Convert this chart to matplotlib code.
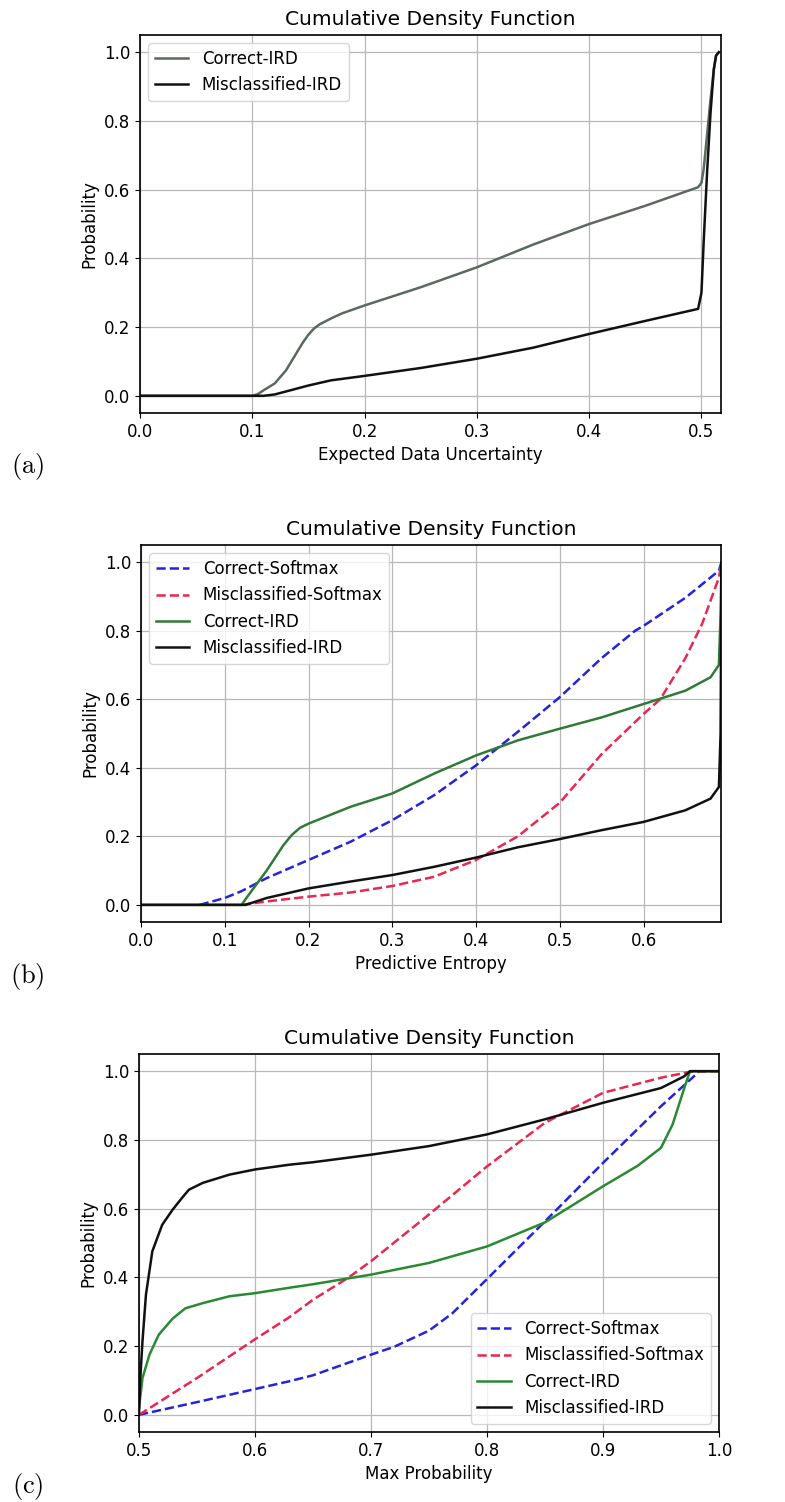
import numpy as np
import matplotlib
matplotlib.use("Agg")
import matplotlib.pyplot as plt

plt.rcParams['font.family'] = ['DejaVu Sans']
plt.rcParams['font.size'] = 12
plt.rcParams['mathtext.fontset'] = 'cm'

TITLE = "Cumulative Density Function"
YLABEL = "Probability"

# ---------------- Panel (a): Expected Data Uncertainty ----------------
a_xlabel = "Expected Data Uncertainty"
a_correct_ird_x = [0.0, 0.10, 0.105, 0.11, 0.12, 0.13, 0.14, 0.145, 0.15, 0.155, 0.16, 0.17, 0.18, 0.20, 0.25, 0.30,
                   0.35, 0.40, 0.45, 0.497, 0.50, 0.502, 0.505, 0.508, 0.511, 0.513, 0.5155]
a_correct_ird_y = [0.0, 0.0, 0.005, 0.016, 0.036, 0.074, 0.128, 0.155, 0.178, 0.196, 0.208, 0.225, 0.24, 0.263, 0.316, 0.374,
                   0.44, 0.50, 0.553, 0.607, 0.62, 0.66, 0.76, 0.86, 0.95, 0.99, 1.0]
a_mis_ird_x = [0.0, 0.11, 0.12, 0.15, 0.17, 0.20, 0.25, 0.30, 0.35, 0.40, 0.45, 0.497, 0.50,
               0.502, 0.505, 0.508, 0.511, 0.513, 0.5155]
a_mis_ird_y = [0.0, 0.0, 0.004, 0.03, 0.045, 0.058, 0.081, 0.108, 0.140, 0.18, 0.218, 0.253, 0.30,
               0.45, 0.65, 0.82, 0.95, 0.99, 1.0]
a_xlim = (0.0, 0.5174)
a_xticks = [0.0, 0.1, 0.2, 0.3, 0.4, 0.5]

# ---------------- Panel (b): Predictive Entropy ----------------
b_xlabel = "Predictive Entropy"
b_correct_soft_x = [0.07, 0.10, 0.12, 0.15, 0.20, 0.25, 0.30, 0.35, 0.40, 0.45, 0.50, 0.55, 0.59, 0.60,
                    0.65, 0.69, 0.6931]
b_correct_soft_y = [0.0, 0.02, 0.04, 0.078, 0.131, 0.184, 0.247, 0.32, 0.407, 0.505, 0.606, 0.72, 0.80, 0.814,
                    0.896, 0.975, 1.0]
b_mis_soft_x = [0.12, 0.15, 0.20, 0.25, 0.30, 0.35, 0.40, 0.45, 0.50, 0.55, 0.60, 0.62, 0.65, 0.67, 0.69, 0.6931]
b_mis_soft_y = [0.0, 0.01, 0.024, 0.036, 0.055, 0.082, 0.131, 0.20, 0.298, 0.44, 0.557, 0.60, 0.72, 0.82, 0.955, 1.0]
b_correct_ird_x = [0.0, 0.12, 0.13, 0.15, 0.17, 0.18, 0.19, 0.20, 0.25, 0.30, 0.35, 0.40, 0.45, 0.50, 0.55, 0.60,
                   0.65, 0.68, 0.69, 0.692, 0.6931]
b_correct_ird_y = [0.0, 0.0, 0.034, 0.10, 0.174, 0.204, 0.225, 0.237, 0.286, 0.325, 0.383, 0.436, 0.48, 0.514, 0.547, 0.586,
                   0.625, 0.664, 0.70, 0.85, 1.0]
b_mis_ird_x = [0.0, 0.125, 0.15, 0.20, 0.25, 0.30, 0.35, 0.40, 0.45, 0.50, 0.55, 0.60, 0.65, 0.68, 0.69,
               0.692, 0.6931]
b_mis_ird_y = [0.0, 0.0, 0.02, 0.048, 0.068, 0.087, 0.111, 0.138, 0.168, 0.192, 0.218, 0.242, 0.276, 0.31, 0.344,
               0.50, 1.0]
b_xlim = (0.0, 0.6931)
b_xticks = [0.0, 0.1, 0.2, 0.3, 0.4, 0.5, 0.6]

# ---------------- Panel (c): Max Probability ----------------
c_xlabel = "Max Probability"
c_correct_soft_x = [0.50, 0.55, 0.60, 0.63, 0.65, 0.70, 0.72, 0.75, 0.77, 0.80, 0.85, 0.90, 0.95, 0.98, 0.983]
c_correct_soft_y = [0.0, 0.037, 0.075, 0.098, 0.115, 0.175, 0.198, 0.245, 0.295, 0.395, 0.563, 0.733, 0.898, 0.99, 1.0]
c_mis_soft_x = [0.50, 0.55, 0.60, 0.63, 0.65, 0.68, 0.70, 0.75, 0.80, 0.85, 0.90, 0.95, 0.975, 1.0]
c_mis_soft_y = [0.0, 0.107, 0.22, 0.285, 0.335, 0.398, 0.447, 0.583, 0.723, 0.85, 0.937, 0.981, 0.998, 1.0]
c_correct_ird_x = [0.50, 0.503, 0.509, 0.517, 0.529, 0.54, 0.555, 0.578, 0.60, 0.63, 0.65, 0.70, 0.75, 0.80,
                   0.85, 0.90, 0.93, 0.95, 0.96, 0.97, 0.975, 1.0]
c_correct_ird_y = [0.02, 0.107, 0.175, 0.233, 0.28, 0.31, 0.325, 0.345, 0.354, 0.370, 0.380, 0.408, 0.442, 0.49,
                   0.560, 0.665, 0.725, 0.777, 0.845, 0.95, 1.0, 1.0]
c_mis_ird_x = [0.50, 0.501, 0.503, 0.506, 0.5115, 0.52, 0.529, 0.537, 0.543, 0.555, 0.578, 0.60, 0.63, 0.65,
               0.70, 0.75, 0.80, 0.85, 0.90, 0.95, 0.97, 0.975, 1.0]
c_mis_ird_y = [0.0, 0.10, 0.214, 0.35, 0.476, 0.553, 0.597, 0.631, 0.655, 0.675, 0.699, 0.714, 0.728, 0.735,
               0.757, 0.782, 0.816, 0.86, 0.908, 0.951, 0.985, 1.0, 1.0]
c_xlim = (0.5, 1.0)
c_xticks = [0.5, 0.6, 0.7, 0.8, 0.9, 1.0]

yticks = [0.0, 0.2, 0.4, 0.6, 0.8, 1.0]
panel_labels = ["(a)", "(b)", "(c)"]

W, H = 785, 1502
fig = plt.figure(figsize=(W / 100, H / 100), dpi=100)

def add_ax(left, top, right, bottom):
    return fig.add_axes([left / W, 1 - bottom / H, (right - left) / W, (bottom - top) / H])

axes = [add_ax(140, 35, 721, 413), add_ax(141, 545, 721.5, 922), add_ax(139, 1054, 719, 1432)]

BLUE = '#2424d8'
RED = '#e8284e'
BLACK = '#111111'
LW = 1.8

def style(ax, xlabel, xlim, xticks):
    ax.set_title(TITLE, fontsize=14.5, pad=7)
    ax.set_xlabel(xlabel, fontsize=12)
    ax.set_ylabel(YLABEL, fontsize=12)
    ax.set_xlim(*xlim)
    ax.set_ylim(-0.05, 1.05)
    ax.set_xticks(xticks)
    ax.set_yticks(yticks)
    ax.grid(True, color='#b8b8b8', linewidth=0.9)
    ax.set_axisbelow(True)
    ax.tick_params(labelsize=12)
    for s in ax.spines.values():
        s.set_linewidth(1.2)

ax = axes[0]
ax.plot(a_correct_ird_x, a_correct_ird_y, color='#5a6a5c', lw=LW, label='Correct-IRD')
ax.plot(a_mis_ird_x, a_mis_ird_y, color=BLACK, lw=LW, label='Misclassified-IRD')
style(ax, a_xlabel, a_xlim, a_xticks)
ax.legend(loc='upper left', fontsize=12)

ax = axes[1]
ax.plot(b_correct_soft_x, b_correct_soft_y, '--', color=BLUE, lw=LW, label='Correct-Softmax')
ax.plot(b_mis_soft_x, b_mis_soft_y, '--', color=RED, lw=LW, label='Misclassified-Softmax')
ax.plot(b_correct_ird_x, b_correct_ird_y, color='#2f7a37', lw=LW, label='Correct-IRD')
ax.plot(b_mis_ird_x, b_mis_ird_y, color=BLACK, lw=LW, label='Misclassified-IRD')
style(ax, b_xlabel, b_xlim, b_xticks)
ax.legend(loc='upper left', fontsize=12)

ax = axes[2]
ax.plot(c_correct_soft_x, c_correct_soft_y, '--', color=BLUE, lw=LW, label='Correct-Softmax')
ax.plot(c_mis_soft_x, c_mis_soft_y, '--', color=RED, lw=LW, label='Misclassified-Softmax')
ax.plot(c_correct_ird_x, c_correct_ird_y, color='#2a8a32', lw=LW, label='Correct-IRD')
ax.plot(c_mis_ird_x, c_mis_ird_y, color=BLACK, lw=LW, label='Misclassified-IRD')
style(ax, c_xlabel, c_xlim, c_xticks)
ax.legend(loc='lower right', fontsize=12)

for lab, yc in zip(panel_labels, [466, 976, 1486]):
    fig.text(27.5 / W, 1 - yc / H, r'$\mathrm{' + lab + '}$', fontsize=19,
             ha='center', va='center')

fig.savefig('out.png', dpi=100)
